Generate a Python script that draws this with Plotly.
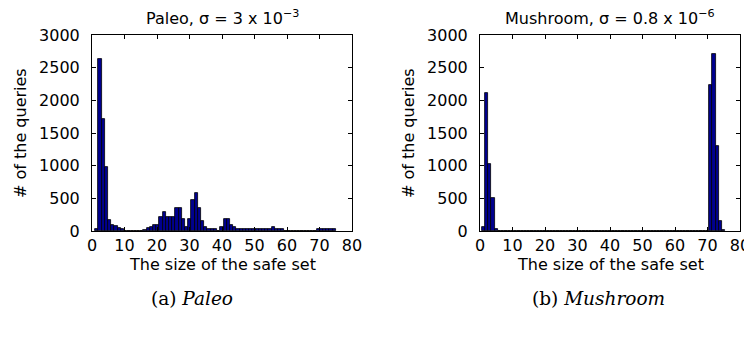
import numpy as np
import plotly.graph_objects as go

# ---- data -------------------------------------------------------------
# Paleo: counts per histogram bin (75 bins spanning safe-set sizes 1..75)
paleo_counts = [
    30, 2640, 1720, 980, 165, 92, 70, 40, 25, 4,
    3, 2, 2, 3, 4, 8, 40, 60, 90, 90,
    220, 285, 215, 220, 220, 350, 350, 190, 60, 190,
    475, 580, 350, 155, 65, 30, 30, 25, 5, 65,
    190, 190, 92, 58, 30, 30, 28, 30, 28, 30,
    28, 25, 28, 30, 28, 56, 30, 30, 28, 3,
    0, 0, 0, 0, 0, 0, 0, 0, 0, 30,
    28, 30, 30, 28, 30,
]
paleo_range = (1, 75)

# Mushroom: counts per safe-set size 1..75
mushroom_sizes = list(range(1, 76))
mushroom_counts = [57, 2108, 1026, 510, 25] + [0] * 65 + [2236, 2710, 1306, 153, 15]

titles = ["Paleo, σ = 3 x 10<sup>−3</sup>", "Mushroom, σ = 0.8 x 10<sup>−6</sup>"]
captions = ["(a) <i>Paleo</i>", "(b) <i>Mushroom</i>"]
xlabel = "The size of the safe set"
ylabel = "# of the queries"
x_ticks = [0, 10, 20, 30, 40, 50, 60, 70, 80]
y_ticks = [0, 500, 1000, 1500, 2000, 2500, 3000]

# ---- figure -----------------------------------------------------------
OFF = 8                      # page body margin in the browser
W, H = 752 - OFF, 337 - OFF
FONT = "DejaVu Sans, Liberation Sans, sans-serif"
FS = 16
SERIF = "DejaVu Serif, Liberation Serif, serif"
BAR = "#00008F"

n_bins = len(paleo_counts)
edges = np.linspace(paleo_range[0], paleo_range[1], n_bins + 1)
paleo_centers = (edges[:-1] + edges[1:]) / 2
paleo_width = edges[1] - edges[0]

fig = go.Figure()
fig.add_trace(go.Bar(x=paleo_centers, y=paleo_counts, width=paleo_width,
                     marker=dict(color=BAR, line=dict(color="black", width=0.8)),
                     xaxis="x", yaxis="y", showlegend=False))
fig.add_trace(go.Bar(x=mushroom_sizes, y=mushroom_counts, width=1,
                     marker=dict(color=BAR, line=dict(color="black", width=0.8)),
                     xaxis="x2", yaxis="y2", showlegend=False))


def px_x(p):
    return (p - OFF) / W


def px_y(p):
    return 1 - (p - OFF) / H


frames = [(92, 352), (480, 740)]
top, bottom = 35, 231

axis_common = dict(showline=True, linecolor="black", linewidth=1, mirror="ticks",
                   ticks="inside", ticklen=4, tickcolor="black", showgrid=False,
                   zeroline=False, tickfont=dict(family=FONT, size=FS, color="black"))

layout = dict(
    width=W, height=H, margin=dict(l=0, r=0, t=0, b=0, autoexpand=False),
    paper_bgcolor="white", plot_bgcolor="white", bargap=0, showlegend=False,
    font=dict(family=FONT, size=FS, color="black"),
)
for i, (l, r) in enumerate(frames):
    sx = "" if i == 0 else "2"
    layout["xaxis" + sx] = dict(domain=[px_x(l), px_x(r)], range=[0, 80],
                                tickvals=x_ticks, anchor="y" + sx,
                                ticklabelstandoff=0, **axis_common)
    layout["yaxis" + sx] = dict(domain=[px_y(bottom), px_y(top)], range=[0, 3000],
                                tickvals=y_ticks, anchor="x" + sx,
                                ticklabelstandoff=8, **axis_common)
fig.update_layout(**layout)

ann = []
for i, (l, r) in enumerate(frames):
    cx = px_x((l + r) / 2)
    ann.append(dict(text=titles[i], x=cx, y=px_y(18), xref="paper", yref="paper",
                    showarrow=False, xanchor="center", yanchor="middle",
                    font=dict(family=FONT, size=FS)))
    ann.append(dict(text=xlabel, x=cx, y=px_y(264), xref="paper", yref="paper",
                    showarrow=False, xanchor="center", yanchor="middle",
                    font=dict(family=FONT, size=FS)))
    ann.append(dict(text=ylabel, x=px_x(l - 72), y=px_y((top + bottom) / 2),
                    xref="paper", yref="paper", textangle=-90,
                    showarrow=False, xanchor="center", yanchor="middle",
                    font=dict(family=FONT, size=FS)))
caption_x = [192, 598]
for i in range(2):
    ann.append(dict(text=captions[i], x=px_x(caption_x[i]), y=px_y(298),
                    xref="paper", yref="paper", showarrow=False,
                    xanchor="center", yanchor="middle",
                    font=dict(family=SERIF, size=18.5)))
fig.update_layout(annotations=ann)

fig.write_html("out.html")
